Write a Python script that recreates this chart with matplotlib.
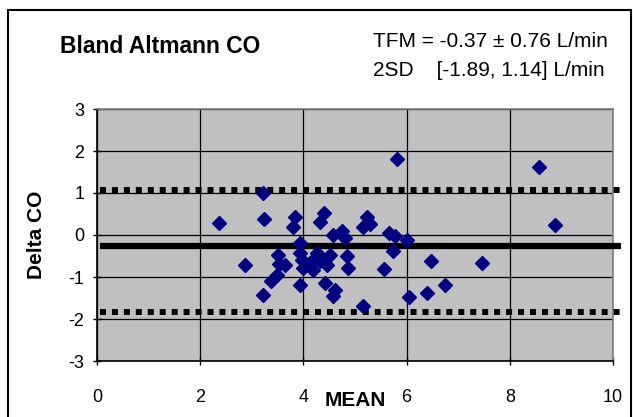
import matplotlib
matplotlib.use("Agg")
import matplotlib.pyplot as plt
from matplotlib.patches import Rectangle

plt.rcParams["font.family"] = ["Liberation Sans", "DejaVu Sans"]
plt.rcParams["axes.unicode_minus"] = False

# Bland-Altmann data
mean_co = [2.36, 2.87, 3.22, 3.24, 3.22, 3.38, 3.48, 3.51, 3.52, 3.64, 3.84, 3.80,
           3.93, 3.93, 3.97, 4.00, 3.93, 4.16, 4.26, 4.19, 4.39, 4.52, 4.45, 4.39,
           4.32, 4.42, 4.61, 4.58, 4.58, 4.74, 4.81, 4.84, 4.87, 5.16, 5.23, 5.16,
           5.29, 5.57, 5.65, 5.78, 5.74, 5.81, 6.00, 6.05, 6.39, 6.47, 6.74, 7.47,
           8.57, 8.88, 4.13, 4.32]
delta_co = [0.29, -0.71, 1.00, 0.39, -1.42, -1.10, -0.95, -0.47, -0.68, -0.71, 0.44, 0.20,
            -0.19, -0.43, -0.59, -0.79, -1.18, -0.63, -0.43, -0.83, -0.59, -0.47, -0.71, 0.52,
            0.32, -1.14, -1.30, -1.46, 0.01, 0.09, -0.07, -0.51, -0.79, -1.68, 0.44, 0.20,
            0.25, -0.81, 0.05, -0.03, -0.39, 1.81, -0.11, -1.48, -1.38, -0.61, -1.18, -0.67,
            1.62, 0.24, -0.67, -0.61]

bias_line = -0.26
upper_loa = 1.08
lower_loa = -1.83

title = "Bland Altmann CO"
stat_lines = ["TFM = -0.37 \u00b1 0.76 L/min", "2SD    [-1.89, 1.14] L/min"]

W, H = 633, 417
fig = plt.figure(figsize=(W / 100, H / 100), dpi=100)
ax = fig.add_axes([97 / W, 1 - 361 / H, 516 / W, 252 / H])
ax.set_facecolor("#C0C0C0")

ax.set_xlim(0, 10)
ax.set_ylim(-3, 3)
ax.set_xticks(range(0, 11, 2))
ax.set_yticks(range(-3, 4))
ax.grid(True, color="black", linewidth=0.9)
ax.set_axisbelow(True)

for side in ("top", "right"):
    ax.spines[side].set_color("#808080")
    ax.spines[side].set_linewidth(1.2)
for side in ("left", "bottom"):
    ax.spines[side].set_color("black")
    ax.spines[side].set_linewidth(1.2)
ax.tick_params(direction="inout", length=6, width=1, labelsize=13)
ax.tick_params(axis="x", pad=17)
ax.tick_params(axis="y", pad=6)

yt = ax.get_yaxis_transform()
ax.plot([0.005, 1.015], [bias_line, bias_line], transform=yt, color="black",
        linewidth=4.5, solid_capstyle="butt", clip_on=False, zorder=3)
for lim in (upper_loa, lower_loa):
    ax.plot([0.005, 1.015], [lim, lim], transform=yt, color="black", linewidth=4.3,
            linestyle=(0, (1, 1)), dash_capstyle="butt", clip_on=False, zorder=3)

ax.plot(mean_co, delta_co, linestyle="none", marker="D", markersize=7,
        color="#000080", zorder=4)

ax.set_xlabel("MEAN", fontsize=15, fontweight="bold")
ax.xaxis.label.set_va("center")
ax.xaxis.set_label_coords(0.5, -39 / 252)
ax.set_ylabel("Delta CO", fontsize=15, fontweight="bold")
ax.yaxis.label.set_va("center")
ax.yaxis.set_label_coords(-60 / 516, 0.5)

fig.text(60 / W, 1 - 53 / H, title, fontsize=16.5, fontweight="bold", va="baseline")
fig.text(373 / W, 1 - 47 / H, stat_lines[0], fontsize=15, va="baseline")
fig.text(373 / W, 1 - 76.5 / H, stat_lines[1], fontsize=15, va="baseline")

fig.patches.append(Rectangle((8 / W, -0.02), 623 / W, 1.02 - 10 / H,
                             transform=fig.transFigure, fill=False,
                             edgecolor="black", linewidth=1.5))

fig.savefig("out.png", dpi=100)
